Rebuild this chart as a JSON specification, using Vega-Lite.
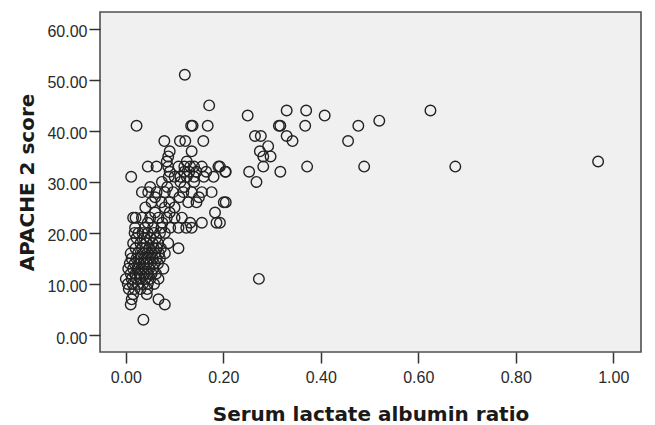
{
  "$schema": "https://vega.github.io/schema/vega-lite/v6.json",
  "autosize": {"type": "none"},
  "padding": {"left": 100, "top": 12, "right": 14, "bottom": 73},
  "width": 541,
  "height": 340,
  "background": "white",
  "config": {
    "view": {"fill": "#f0f0f0", "stroke": "#505050", "strokeWidth": 1.6},
    "axis": {"grid": false, "domain": false, "tickColor": "#333333", "tickWidth": 1.5, "tickSize": 11,
      "labelFont": "Liberation Sans", "labelFontSize": 16, "labelColor": "#2a2a2a",
      "titleFont": "DejaVu Sans", "titleFontSize": 20, "titleFontWeight": "bold", "titleColor": "#1a1a1a"}
  },
  "data": {"values": [
    {"ratio": 0.25, "apache": 43}, {"ratio": 0.33, "apache": 44}, {"ratio": 0.37, "apache": 44}, {"ratio": 0.408, "apache": 43},
    {"ratio": 0.625, "apache": 44}, {"ratio": 0.314, "apache": 41}, {"ratio": 0.317, "apache": 41}, {"ratio": 0.368, "apache": 41},
    {"ratio": 0.477, "apache": 41}, {"ratio": 0.52, "apache": 42}, {"ratio": 0.265, "apache": 39}, {"ratio": 0.277, "apache": 39},
    {"ratio": 0.33, "apache": 39}, {"ratio": 0.342, "apache": 38}, {"ratio": 0.456, "apache": 38}, {"ratio": 0.292, "apache": 37},
    {"ratio": 0.275, "apache": 36}, {"ratio": 0.282, "apache": 35}, {"ratio": 0.297, "apache": 35}, {"ratio": 0.193, "apache": 33},
    {"ratio": 0.205, "apache": 32}, {"ratio": 0.253, "apache": 32}, {"ratio": 0.282, "apache": 33}, {"ratio": 0.317, "apache": 32},
    {"ratio": 0.372, "apache": 33}, {"ratio": 0.489, "apache": 33}, {"ratio": 0.676, "apache": 33}, {"ratio": 0.969, "apache": 34},
    {"ratio": 0.268, "apache": 30}, {"ratio": 0.205, "apache": 26}, {"ratio": 0.201, "apache": 26}, {"ratio": 0.193, "apache": 22},
    {"ratio": 0.273, "apache": 11},
    {"ratio": 0.121, "apache": 51}, {"ratio": 0.171, "apache": 45}, {"ratio": 0.022, "apache": 41}, {"ratio": 0.134, "apache": 41},
    {"ratio": 0.137, "apache": 41}, {"ratio": 0.168, "apache": 41}, {"ratio": 0.079, "apache": 38}, {"ratio": 0.111, "apache": 38},
    {"ratio": 0.122, "apache": 38}, {"ratio": 0.159, "apache": 38}, {"ratio": 0.09, "apache": 36}, {"ratio": 0.135, "apache": 36},
    {"ratio": 0.087, "apache": 35}, {"ratio": 0.084, "apache": 34}, {"ratio": 0.125, "apache": 34},
    {"ratio": 0.011, "apache": 31}, {"ratio": 0.045, "apache": 33}, {"ratio": 0.063, "apache": 33}, {"ratio": 0.087, "apache": 33},
    {"ratio": 0.108, "apache": 33}, {"ratio": 0.12, "apache": 33}, {"ratio": 0.132, "apache": 33}, {"ratio": 0.14, "apache": 33},
    {"ratio": 0.156, "apache": 33}, {"ratio": 0.19, "apache": 33}, {"ratio": 0.204, "apache": 32},
    {"ratio": 0.09, "apache": 32}, {"ratio": 0.12, "apache": 32}, {"ratio": 0.13, "apache": 32}, {"ratio": 0.145, "apache": 32},
    {"ratio": 0.165, "apache": 32}, {"ratio": 0.088, "apache": 31}, {"ratio": 0.1, "apache": 31}, {"ratio": 0.112, "apache": 31},
    {"ratio": 0.125, "apache": 31}, {"ratio": 0.14, "apache": 31}, {"ratio": 0.16, "apache": 31}, {"ratio": 0.18, "apache": 31},
    {"ratio": 0.074, "apache": 30}, {"ratio": 0.112, "apache": 30}, {"ratio": 0.14, "apache": 30},
    {"ratio": 0.05, "apache": 29}, {"ratio": 0.085, "apache": 29}, {"ratio": 0.12, "apache": 29},
    {"ratio": 0.033, "apache": 28}, {"ratio": 0.046, "apache": 28}, {"ratio": 0.063, "apache": 28}, {"ratio": 0.08, "apache": 28},
    {"ratio": 0.097, "apache": 28}, {"ratio": 0.118, "apache": 28}, {"ratio": 0.135, "apache": 28}, {"ratio": 0.156, "apache": 28},
    {"ratio": 0.176, "apache": 28},
    {"ratio": 0.06, "apache": 27}, {"ratio": 0.11, "apache": 27}, {"ratio": 0.15, "apache": 27},
    {"ratio": 0.053, "apache": 26}, {"ratio": 0.073, "apache": 26}, {"ratio": 0.089, "apache": 26}, {"ratio": 0.128, "apache": 26},
    {"ratio": 0.145, "apache": 26},
    {"ratio": 0.04, "apache": 25}, {"ratio": 0.08, "apache": 25}, {"ratio": 0.1, "apache": 25},
    {"ratio": 0.06, "apache": 24}, {"ratio": 0.09, "apache": 24}, {"ratio": 0.183, "apache": 24},
    {"ratio": 0.015, "apache": 23}, {"ratio": 0.02, "apache": 23}, {"ratio": 0.033, "apache": 23}, {"ratio": 0.05, "apache": 23},
    {"ratio": 0.067, "apache": 23}, {"ratio": 0.084, "apache": 23}, {"ratio": 0.1, "apache": 23}, {"ratio": 0.115, "apache": 23},
    {"ratio": 0.045, "apache": 22}, {"ratio": 0.075, "apache": 22}, {"ratio": 0.132, "apache": 22}, {"ratio": 0.156, "apache": 22},
    {"ratio": 0.186, "apache": 22},
    {"ratio": 0.019, "apache": 21}, {"ratio": 0.039, "apache": 21}, {"ratio": 0.056, "apache": 21}, {"ratio": 0.073, "apache": 21},
    {"ratio": 0.091, "apache": 21}, {"ratio": 0.108, "apache": 21}, {"ratio": 0.124, "apache": 21}, {"ratio": 0.135, "apache": 21},
    {"ratio": 0.018, "apache": 20}, {"ratio": 0.026, "apache": 20}, {"ratio": 0.034, "apache": 20}, {"ratio": 0.045, "apache": 20},
    {"ratio": 0.058, "apache": 20}, {"ratio": 0.07, "apache": 20}, {"ratio": 0.08, "apache": 20},
    {"ratio": 0.022, "apache": 19}, {"ratio": 0.038, "apache": 19}, {"ratio": 0.05, "apache": 19}, {"ratio": 0.062, "apache": 19},
    {"ratio": 0.015, "apache": 18}, {"ratio": 0.03, "apache": 18}, {"ratio": 0.042, "apache": 18}, {"ratio": 0.055, "apache": 18},
    {"ratio": 0.066, "apache": 18}, {"ratio": 0.087, "apache": 18},
    {"ratio": 0.02, "apache": 17}, {"ratio": 0.033, "apache": 17}, {"ratio": 0.04, "apache": 17}, {"ratio": 0.048, "apache": 17},
    {"ratio": 0.057, "apache": 17}, {"ratio": 0.064, "apache": 17}, {"ratio": 0.072, "apache": 17}, {"ratio": 0.108, "apache": 17},
    {"ratio": 0.01, "apache": 16}, {"ratio": 0.025, "apache": 16}, {"ratio": 0.035, "apache": 16}, {"ratio": 0.044, "apache": 16},
    {"ratio": 0.052, "apache": 16}, {"ratio": 0.06, "apache": 16}, {"ratio": 0.068, "apache": 16}, {"ratio": 0.08, "apache": 16},
    {"ratio": 0.012, "apache": 15}, {"ratio": 0.022, "apache": 15}, {"ratio": 0.03, "apache": 15}, {"ratio": 0.038, "apache": 15},
    {"ratio": 0.046, "apache": 15}, {"ratio": 0.055, "apache": 15}, {"ratio": 0.063, "apache": 15}, {"ratio": 0.07, "apache": 15},
    {"ratio": 0.008, "apache": 14}, {"ratio": 0.018, "apache": 14}, {"ratio": 0.027, "apache": 14}, {"ratio": 0.036, "apache": 14},
    {"ratio": 0.043, "apache": 14}, {"ratio": 0.05, "apache": 14}, {"ratio": 0.058, "apache": 14}, {"ratio": 0.066, "apache": 14},
    {"ratio": 0.005, "apache": 13}, {"ratio": 0.015, "apache": 13}, {"ratio": 0.024, "apache": 13}, {"ratio": 0.032, "apache": 13},
    {"ratio": 0.04, "apache": 13}, {"ratio": 0.048, "apache": 13}, {"ratio": 0.056, "apache": 13}, {"ratio": 0.077, "apache": 13},
    {"ratio": 0.01, "apache": 12}, {"ratio": 0.02, "apache": 12}, {"ratio": 0.028, "apache": 12}, {"ratio": 0.037, "apache": 12},
    {"ratio": 0.045, "apache": 12}, {"ratio": 0.053, "apache": 12}, {"ratio": 0.062, "apache": 12},
    {"ratio": 0.0, "apache": 11}, {"ratio": 0.012, "apache": 11}, {"ratio": 0.022, "apache": 11}, {"ratio": 0.03, "apache": 11},
    {"ratio": 0.04, "apache": 11}, {"ratio": 0.05, "apache": 11}, {"ratio": 0.067, "apache": 11},
    {"ratio": 0.004, "apache": 10}, {"ratio": 0.014, "apache": 10}, {"ratio": 0.025, "apache": 10}, {"ratio": 0.035, "apache": 10},
    {"ratio": 0.045, "apache": 10}, {"ratio": 0.058, "apache": 10},
    {"ratio": 0.006, "apache": 9}, {"ratio": 0.018, "apache": 9}, {"ratio": 0.03, "apache": 9}, {"ratio": 0.044, "apache": 9},
    {"ratio": 0.015, "apache": 8}, {"ratio": 0.043, "apache": 8},
    {"ratio": 0.012, "apache": 7}, {"ratio": 0.067, "apache": 7}, {"ratio": 0.01, "apache": 6}, {"ratio": 0.08, "apache": 6},
    {"ratio": 0.036, "apache": 3}
  ]},
  "mark": {"type": "point", "shape": "circle", "filled": false, "size": 112, "stroke": "#222222", "strokeWidth": 1.4, "opacity": 1},
  "encoding": {
    "x": {"field": "ratio", "type": "quantitative",
      "scale": {"domain": [-0.053, 1.057], "nice": false, "zero": false},
      "axis": {"values": [0, 0.2, 0.4, 0.6, 0.8, 1.0], "format": ".2f", "title": "Serum lactate albumin ratio",
        "labelBaseline": "alphabetic", "labelPadding": 19, "titleBaseline": "alphabetic", "titleY": 68}},
    "y": {"field": "apache", "type": "quantitative",
      "scale": {"domain": [-3.33, 63.3], "nice": false, "zero": false},
      "axis": {"values": [0, 10, 20, 30, 40, 50, 60], "format": ".2f", "title": "APACHE 2 score",
        "labelPadding": 2, "labelOffset": 3, "titleBaseline": "alphabetic", "titleX": -67, "titleY": 170, "titleAngle": -90, "titleAlign": "center"}}
  }
}
